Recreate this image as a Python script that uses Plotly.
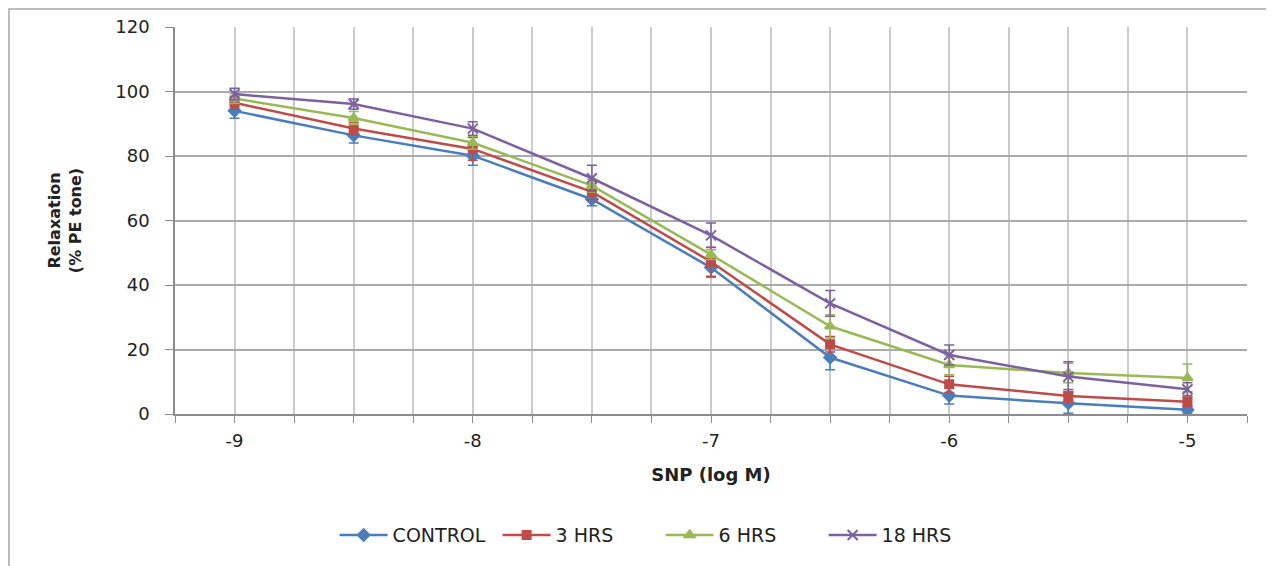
import plotly.graph_objects as go

x_vals = [-9, -8.5, -8, -7.5, -7, -6.5, -6, -5.5, -5]
x_tick_vals = [-9, -8, -7, -6, -5]
x_tick_text = ["-9", "-8", "-7", "-6", "-5"]

control = [94.0, 86.4, 80.1, 66.6, 45.4, 17.5, 5.7, 3.3, 1.3]
control_err = [2.3, 2.4, 3.0, 2.0, 3.0, 3.8, 2.6, 3.1, 1.0]

hrs3 = [96.5, 88.5, 82.2, 68.9, 47.2, 21.6, 9.2, 5.6, 3.8]
hrs3_err = [2.0, 2.0, 3.5, 2.5, 4.5, 2.4, 2.5, 2.0, 1.5]

hrs6 = [97.8, 91.8, 84.1, 70.8, 49.4, 27.2, 15.2, 12.7, 11.2]
hrs6_err = [1.5, 2.0, 2.0, 2.0, 1.5, 3.6, 3.0, 3.0, 4.3]

hrs18 = [99.2, 96.1, 88.5, 73.1, 55.4, 34.3, 18.3, 11.6, 7.7]
hrs18_err = [1.8, 1.6, 2.1, 4.0, 3.8, 4.0, 3.1, 4.6, 2.0]

series = [
    ("CONTROL", control, control_err, "#4A7EBB", "diamond", 9),
    ("3 HRS", hrs3, hrs3_err, "#BE4B48", "square", 8),
    ("6 HRS", hrs6, hrs6_err, "#98B954", "triangle-up", 9),
    ("18 HRS", hrs18, hrs18_err, "#7D60A0", "x-thin", 10),
]

fig = go.Figure()
for name, vals, errs, color, sym, size in series:
    fig.add_trace(go.Scatter(
        x=x_vals, y=vals, name=name, mode="lines+markers",
        line=dict(color=color, width=2.5),
        marker=dict(symbol=sym, size=size, color=color,
                    line=dict(color=color, width=2)),
        error_y=dict(type="data", array=errs, visible=True,
                     color=color, thickness=1.5, width=5),
    ))

font_family = "DejaVu Sans, Liberation Sans, sans-serif"

# page has an 8px body margin; figure is sized to fit within the window
W, H = 1266, 558
L, R, T, B = 167, 27, 19, 152

fig.update_layout(
    width=W, height=H,
    margin=dict(l=L, r=R, t=T, b=B),
    paper_bgcolor="white", plot_bgcolor="white",
    font=dict(family=font_family, size=18, color="#222222"),
    showlegend=True,
    legend=dict(orientation="h", x=0.453, xanchor="center", y=-0.313,
                yanchor="middle", font=dict(size=19, color="#222222"),
                traceorder="normal", itemwidth=48, entrywidth=100),
    xaxis=dict(
        range=[-9.25, -4.75], tickmode="array",
        tickvals=x_tick_vals, ticktext=x_tick_text,
        showgrid=True, gridcolor="#CBCBCB", gridwidth=1.5,
        ticks="outside", ticklen=7, tickcolor="#8C8C8C", tickwidth=1,
        minor=dict(tickmode="linear", tick0=-9, dtick=0.25, showgrid=True,
                   gridcolor="#CBCBCB", gridwidth=1.5, ticks="outside",
                   ticklen=7, tickcolor="#8C8C8C"),
        showline=True, linecolor="#8C8C8C", linewidth=1.5,
        zeroline=False, tickfont=dict(size=18), automargin=False,
        ticklabelstandoff=3,
        title=dict(text="<b>SNP (log M)</b>", font=dict(size=18), standoff=18),
    ),
    yaxis=dict(
        range=[0, 120], tickmode="linear", tick0=0, dtick=20,
        showgrid=True, gridcolor="#ABABAB", gridwidth=1.5,
        ticks="outside", ticklen=8, tickcolor="#8C8C8C",
        showline=True, linecolor="#8C8C8C", linewidth=1.5,
        zeroline=False, tickfont=dict(size=18), automargin=False,
        ticklabelstandoff=12,
        title=dict(text="<b>Relaxation<br>(% PE tone)</b>", font=dict(size=16),
                   standoff=30),
    ),
    shapes=[dict(type="rect", xref="paper", yref="paper",
                 x0=(1 - L) / (W - L - R), x1=(W + 30 - L) / (W - L - R),
                 y0=-(B + 30) / (H - T - B), y1=(H - B - 1) / (H - T - B),
                 line=dict(color="#A6A6A6", width=1.5), layer="below")],
)

fig.write_html("out.html")
